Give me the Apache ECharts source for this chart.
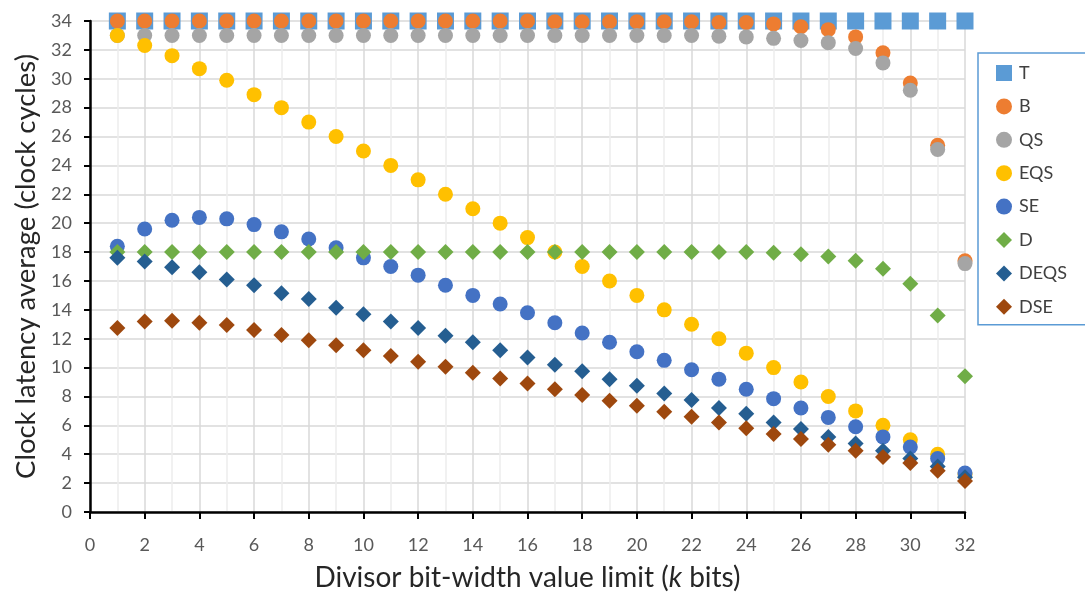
<!DOCTYPE html>
<html>
<head>
<meta charset="utf-8">
<script src="https://cdn.jsdelivr.net/npm/echarts@6/dist/echarts.min.js"></script>
<style>
html,body{margin:0;padding:0;background:#fff;}
#chart{width:1085px;height:592px;}
</style>
</head>
<body>
<div id="chart"></div>
<script>
const kValues = [1,2,3,4,5,6,7,8,9,10,11,12,13,14,15,16,17,18,19,20,21,22,23,24,25,26,27,28,29,30,31,32];
const xTicks = [0,2,4,6,8,10,12,14,16,18,20,22,24,26,28,30,32];
const yTicks = [0,2,4,6,8,10,12,14,16,18,20,22,24,26,28,30,32,34];

const T = [34,34,34,34,34,34,34,34,34,34,34,34,34,34,34,34,34,34,34,34,34,34,34,34,34,34,34,34,34,34,34,34];
const B = [34,34,34,34,34,34,34,34,34,34,34,34,34,34,34,34,33.95,33.95,33.95,33.95,33.95,33.95,33.9,33.9,33.8,33.6,33.4,32.9,31.8,29.7,25.4,17.4];
const QS = [33,33,33,33,33,33,33,33,33,33,33,33,33,33,33,33,33,33,33,33,33,33,32.95,32.9,32.8,32.65,32.5,32.1,31.1,29.2,25.1,17.2];
const EQS = [33,32.3,31.6,30.7,29.9,28.9,28,27,26,25,24,23,22,21,20,19,18,17,16,15,14,13,12,11,10,9,8,7,6,5,4,2.6];
const SE = [18.4,19.6,20.2,20.4,20.3,19.9,19.4,18.9,18.3,17.6,17.0,16.4,15.7,15.0,14.4,13.8,13.1,12.4,11.75,11.1,10.5,9.85,9.2,8.5,7.85,7.2,6.55,5.9,5.2,4.5,3.7,2.7];
const D = [18,18,18,18,18,18,18,18,18,18,18,18,18,18,18,18,18,18,18,18,18,18,18,18,17.95,17.85,17.7,17.4,16.85,15.8,13.6,9.4];
const DEQS = [17.6,17.35,16.95,16.6,16.1,15.7,15.15,14.75,14.15,13.7,13.2,12.75,12.2,11.75,11.2,10.7,10.2,9.75,9.2,8.75,8.2,7.75,7.2,6.8,6.2,5.75,5.2,4.75,4.25,3.7,3.15,2.4];
const DSE = [12.75,13.2,13.25,13.1,12.95,12.6,12.25,11.9,11.55,11.2,10.8,10.4,10.05,9.65,9.25,8.9,8.5,8.1,7.7,7.35,6.95,6.6,6.2,5.8,5.4,5.05,4.65,4.25,3.8,3.4,2.85,2.15];

const seriesNames = ['T','B','QS','EQS','SE','D','DEQS','DSE'];
const seriesData = [T,B,QS,EQS,SE,D,DEQS,DSE];
const seriesColors = ['#5B9BD5','#ED7D31','#A5A5A5','#FFC000','#4472C4','#70AD47','#255E91','#9E480E'];
const seriesSymbols = ['rect','circle','circle','circle','circle','diamond','diamond','diamond'];
const seriesSizes = [17,15,15,15,15,16,16,16];

const FONT = 'Lato, "Open Sans", sans-serif';

const chart = echarts.init(document.getElementById('chart'), null, {renderer:'canvas'});
chart.setOption({
  animation:false,
  backgroundColor:'#ffffff',
  grid:{left:90, right:120, top:21, bottom:80, containLabel:false, outerBoundsMode:'none'},
  legend:{
    orient:'vertical',
    left:978, top:53,
    padding:[11,80,9,18],
    borderColor:'#5B9BD5', borderWidth:1.5,
    itemWidth:16, itemHeight:16, itemGap:15.4,
    textStyle:{fontFamily:FONT, fontSize:18, color:'#404040', padding:[0,0,0,2]},
    data:seriesNames.map((n,i)=>({name:n, icon:seriesSymbols[i]}))
  },
  xAxis:{
    type:'value', min:0, max:32, interval:2,
    name:'{n|Divisor bit-width value limit (}{i|k}{n| bits)}',
    nameLocation:'middle', nameGap:52,
    nameTextStyle:{rich:{
      n:{fontFamily:FONT, fontSize:28, color:'#262626'},
      i:{fontFamily:FONT, fontSize:28, color:'#262626', fontStyle:'italic'}
    }},
    axisLine:{show:true, onZero:false, lineStyle:{color:'#000', width:2.5}},
    axisTick:{show:true, length:7, lineStyle:{color:'#000', width:2}},
    axisLabel:{fontFamily:FONT, fontSize:18, color:'#595959', margin:24},
    splitLine:{show:true, lineStyle:{color:'#d9d9d9', width:1.5}},
    minorTick:{show:false, splitNumber:2},
    minorSplitLine:{show:true, lineStyle:{color:'#ededed', width:1.5}}
  },
  yAxis:{
    type:'value', min:0, max:34, interval:2,
    name:'Clock latency average (clock cycles)',
    nameLocation:'middle', nameGap:49,
    nameTextStyle:{fontFamily:FONT, fontSize:27.5, color:'#262626'},
    axisLine:{show:true, lineStyle:{color:'#000', width:2.5}},
    axisTick:{show:true, length:6, lineStyle:{color:'#000', width:2}},
    axisLabel:{fontFamily:FONT, fontSize:18, color:'#595959', margin:18},
    splitLine:{show:true, lineStyle:{color:'#d9d9d9', width:1.5}}
  },
  series:seriesNames.map((n,i)=>({
    name:n, type:'scatter',
    symbol:seriesSymbols[i], symbolSize:seriesSizes[i],
    itemStyle:{color:seriesColors[i], opacity:1},
    data:kValues.map((k,j)=>[k, seriesData[i][j]]),
    z:2+i
  }))
});
</script>
</body>
</html>
